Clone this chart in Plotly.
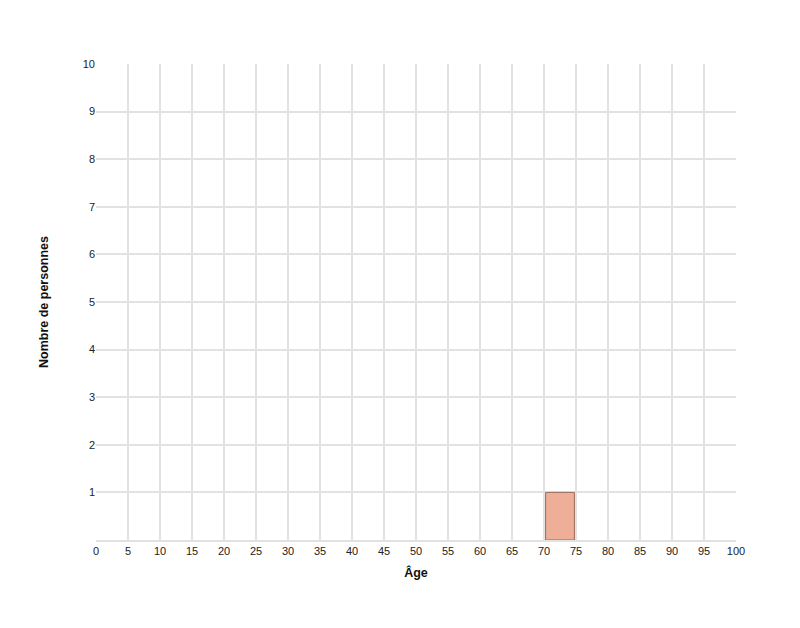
import plotly.graph_objects as go

# ages of the people in the sample
ages = [72]

age_ticks = list(range(0, 101, 5))
count_ticks = list(range(1, 11))

fig = go.Figure()
fig.add_trace(go.Histogram(
    x=ages,
    xbins=dict(start=0, end=100, size=5),
    marker=dict(color="#eeae98", line=dict(color="#9a6a5a", width=1)),
    hoverinfo="skip",
))

fig.update_layout(
    width=800, height=628,
    margin=dict(l=88, r=72, t=56, b=96),
    paper_bgcolor="white", plot_bgcolor="white",
    font=dict(family="Liberation Sans, Arial, sans-serif", size=11, color="#222"),
    bargap=0.1,
    showlegend=False,
)
fig.update_xaxes(
    range=[0, 100], tickvals=age_ticks, ticktext=[str(v) for v in age_ticks],
    tickfont=dict(color="#222", size=11),
    showgrid=True, gridcolor="#e2e2e2", gridwidth=1.5, zeroline=False,
    showline=True, linecolor="#e2e2e2", linewidth=2, ticks="", ticklen=0,
    title=dict(text="<b>Âge</b>", font=dict(size=12.5, color="#111"), standoff=12),
)
fig.update_yaxes(
    range=[0, 10], tickvals=count_ticks, ticktext=[str(v) for v in count_ticks],
    tickfont=dict(color="#222", size=11),
    showgrid=True, gridcolor="#e2e2e2", gridwidth=1.5, zeroline=False,
    showline=False, ticks="", ticklen=0,
    title=dict(text="<b>Nombre de personnes</b>", font=dict(size=12.5, color="#111"), standoff=31),
)

fig.write_html("out.html")
